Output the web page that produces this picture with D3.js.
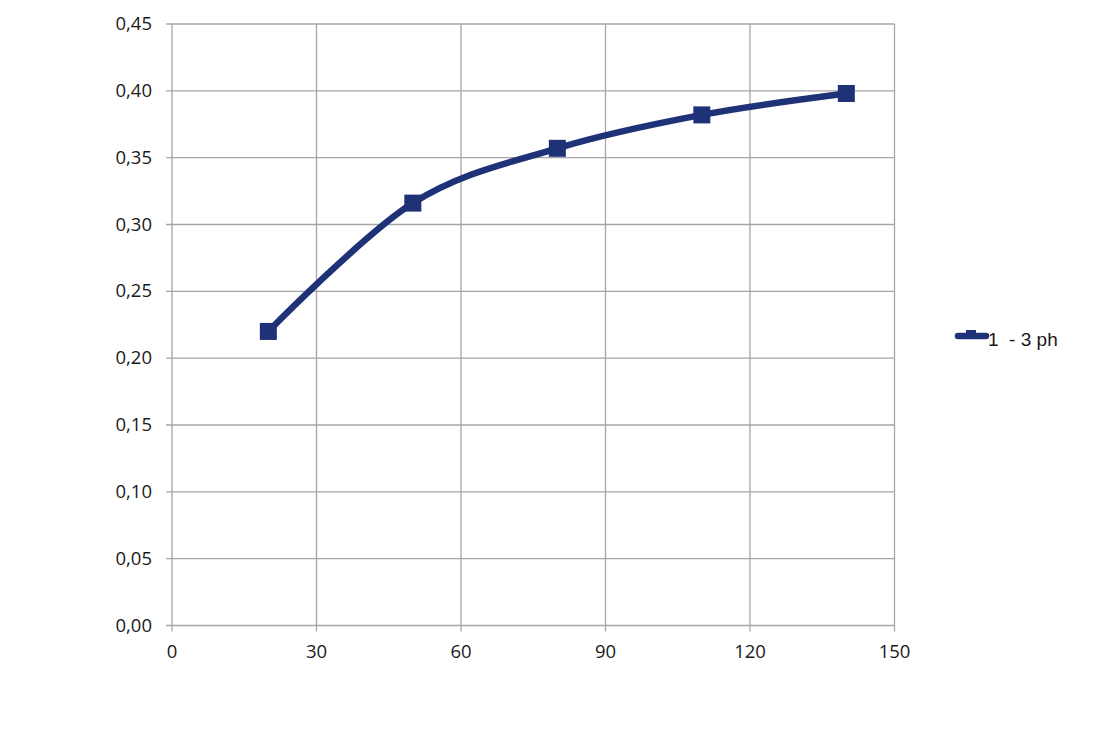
<!DOCTYPE html>
<html>
<head>
<meta charset="utf-8">
<script src="https://cdn.jsdelivr.net/npm/d3@7"></script>
<style>
  html, body { margin: 0; padding: 0; background: #fff; }
  svg { display: block; }
</style>
</head>
<body>
<svg id="chart" width="1110" height="735"></svg>
<script>
const xValues = [20, 50, 80, 110, 140];
const yValues = [0.22, 0.316, 0.357, 0.382, 0.398];
const seriesName = "1  - 3 ph";
const xTicks = [0, 30, 60, 90, 120, 150];
const yTicks = [0, 0.05, 0.10, 0.15, 0.20, 0.25, 0.30, 0.35, 0.40, 0.45];

(function () {
const svg = d3.select("#chart");
const pLeft = 172, pRight = 894.5, pTop = 24, pBottom = 625.5;
const color = "#1f3278";
const gridColor = "#a6a6a6";
const fontFamily = "'Open Sans', 'DejaVu Sans', sans-serif";

const x = d3.scaleLinear().domain([0, 150]).range([pLeft, pRight]);
const y = d3.scaleLinear().domain([0, 0.45]).range([pBottom, pTop]);

// grid
const g = svg.append("g");
g.selectAll(".vg").data(xTicks).join("line")
  .attr("x1", d => x(d)).attr("x2", d => x(d))
  .attr("y1", pTop).attr("y2", pBottom + 6)
  .attr("stroke", gridColor).attr("stroke-width", 1.3);
g.selectAll(".hg").data(yTicks).join("line")
  .attr("x1", pLeft - 6).attr("x2", pRight)
  .attr("y1", d => y(d)).attr("y2", d => y(d))
  .attr("stroke", gridColor).attr("stroke-width", 1.3);

// tick labels
const fmt = d => d.toFixed(2).replace(".", ",");
svg.selectAll(".yl").data(yTicks).join("text")
  .attr("x", 152).attr("y", d => y(d))
  .attr("dy", "0.33em")
  .attr("text-anchor", "end")
  .attr("font-family", fontFamily).attr("font-size", 18.5)
  .attr("fill", "#1a1a1a")
  .text(fmt);
svg.selectAll(".xl").data(xTicks).join("text")
  .attr("x", d => x(d)).attr("y", 658)
  .attr("text-anchor", "middle")
  .attr("font-family", fontFamily).attr("font-size", 18.5)
  .attr("fill", "#1a1a1a")
  .text(d => d);

// line
const pts = xValues.map((v, i) => [v, yValues[i]]);
const line = d3.line().x(d => x(d[0])).y(d => y(d[1])).curve(d3.curveCardinal.tension(0));
svg.append("path").datum(pts)
  .attr("d", line)
  .attr("fill", "none")
  .attr("stroke", color)
  .attr("stroke-width", 6.5)
  .attr("stroke-linejoin", "round");

const ms = 17;
svg.selectAll(".mk").data(pts).join("rect")
  .attr("x", d => x(d[0]) - ms / 2).attr("y", d => y(d[1]) - ms / 2)
  .attr("width", ms).attr("height", ms)
  .attr("fill", color);

// legend
const lg = svg.append("g");
lg.append("line")
  .attr("x1", 958).attr("x2", 986).attr("y1", 336).attr("y2", 336)
  .attr("stroke", color).attr("stroke-width", 6.5).attr("stroke-linecap", "round");
lg.append("rect")
  .attr("x", 966).attr("y", 330).attr("width", 10).attr("height", 9)
  .attr("fill", color);
lg.append("text")
  .attr("x", 988).attr("y", 346)
  .attr("font-family", "'Liberation Sans', Arial, sans-serif").attr("font-size", 19)
  .attr("fill", "#1a1a1a")
  .style("white-space", "pre")
  .text(seriesName);
})();
</script>
</body>
</html>
